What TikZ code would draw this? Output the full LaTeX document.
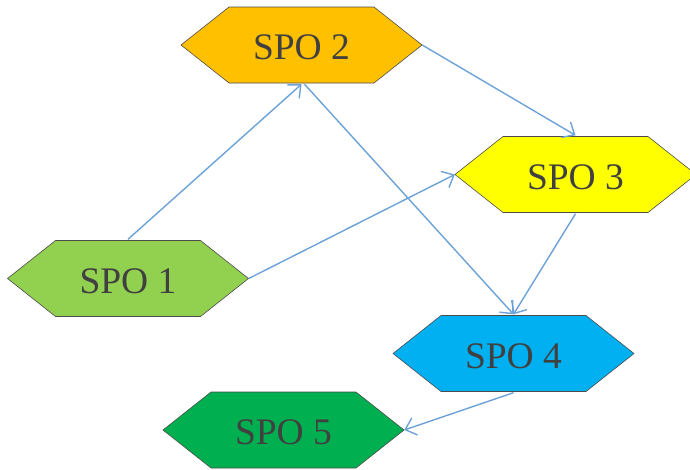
\documentclass[tikz,border=0pt]{standalone}
\usepackage{fontspec}
\setmainfont{Liberation Serif}
\usetikzlibrary{arrows.meta}
\definecolor{edgeblue}{RGB}{108,162,216}
\definecolor{txtgray}{RGB}{64,64,64}
\definecolor{spoorange}{RGB}{255,192,0}
\definecolor{spoyellow}{RGB}{255,255,0}
\definecolor{spolime}{RGB}{146,208,80}
\definecolor{spocyan}{RGB}{0,176,240}
\definecolor{spogreen}{RGB}{0,176,80}
\tikzset{
  hexbox/.style={
    rectangle, minimum width=243pt, minimum height=78pt, inner sep=0pt,
    text height=29pt, text depth=0pt,
    text=txtgray, font=\fontsize{37.5}{42}\selectfont,
    path picture={
      \draw[fill=#1, draw=black!70, line width=0.6pt]
        ([xshift=1pt]path picture bounding box.west)
        -- ([xshift=49pt,yshift=-1pt]path picture bounding box.north west)
        -- ([xshift=-49pt,yshift=-1pt]path picture bounding box.north east)
        -- ([xshift=-1pt]path picture bounding box.east)
        -- ([xshift=-49pt,yshift=1pt]path picture bounding box.south east)
        -- ([xshift=49pt,yshift=1pt]path picture bounding box.south west)
        -- cycle;
    }
  },
  link/.style={draw=edgeblue, line width=1.4pt,
    -{Straight Barb[length=10pt,width=18pt,line width=1.4pt]}}
}
\begin{document}
\begin{tikzpicture}[x=1pt,y=-1pt]
  \useasboundingbox (0,0) rectangle (690,469);
  \node[hexbox=spoorange] (s2) at (301.5,45)  {SPO 2};
  \node[hexbox=spoyellow] (s3) at (575.5,174.5) {SPO 3};
  \node[hexbox=spolime]   (s1) at (128,278.5) {SPO 1};
  \node[hexbox=spocyan]   (s4) at (513.5,353.5) {SPO 4};
  \node[hexbox=spogreen]  (s5) at (283.5,430) {SPO 5};

  \draw[link] (s1.north) -- (s2.south);
  \draw[link] ([xshift=-1pt]s1.east) -- ([xshift=1pt]s3.west);
  \draw[link] ([xshift=-1pt]s2.east) -- (s3.north);
  \draw[link] ([xshift=3pt]s2.south) -- (s4.north);
  \draw[link] (s3.south) -- (s4.north);
  \draw[link] (s4.south) -- ([xshift=-1pt]s5.east);
\end{tikzpicture}
\end{document}
